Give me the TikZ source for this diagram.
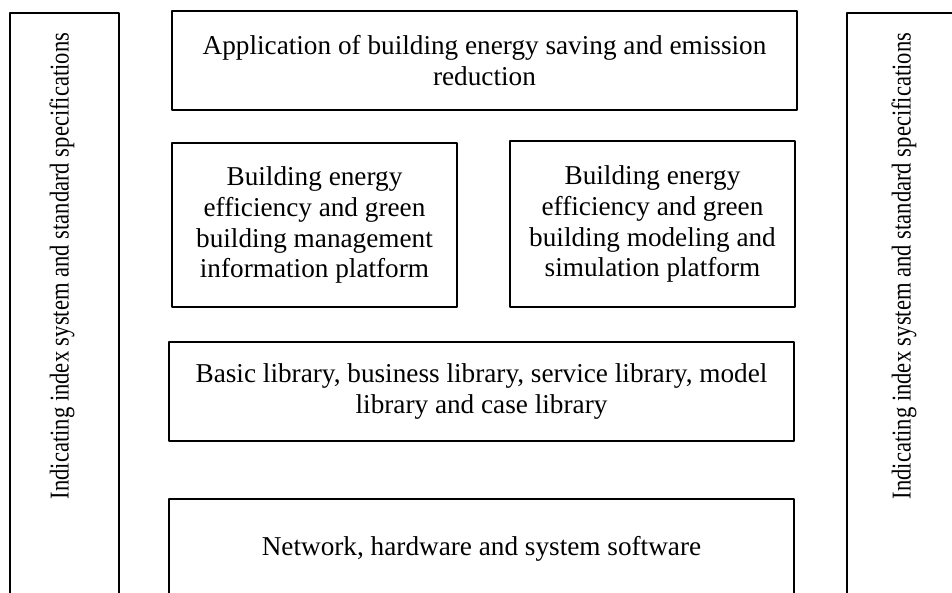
\documentclass[tikz,border=0pt]{standalone}
\usepackage{fontspec}
\setmainfont{Liberation Serif}
\begin{document}
\begin{tikzpicture}[x=0.02cm, y=-0.02cm, line join=round, font=\fontsize{15.5}{17.6}\selectfont,
	layer/.style={draw, line width=1.1pt, inner sep=0pt, outer sep=0pt, align=center},
	sidebox/.style={draw, line width=1.1pt, inner sep=0pt, minimum width=2.18cm, minimum height=14cm, anchor=north},
	sidetext/.style={rotate=90, xscale=0.83}]
	\useasboundingbox (0,0) rectangle (952,592);
	\clip (0,0) rectangle (952,592);
	% Seitenspalten
	\node[sidebox] (lside) at (64.5,12) {};
	\node[sidebox] (rside) at (901.5,12) {};
	\node[sidetext] (ltext) at (62,266) {Indicating index system and standard specifications};
	\node[sidetext] (rtext) at (904,266) {Indicating index system and standard specifications};
	% Schichten
	\node[layer, minimum width=12.5cm, minimum height=1.98cm] (app) at (484.5,60.5)
		{Application of building energy saving and emission\\ reduction};
	\node[layer, minimum width=5.7cm, minimum height=3.28cm] (mgmt) at (314.5,225)
		{Building energy\\ efficiency and green\\ building management\\ information platform};
	\node[layer, minimum width=5.7cm, minimum height=3.32cm] (sim) at (652.5,224)
		{Building energy\\ efficiency and green\\ building modeling and\\ simulation platform};
	\node[layer, minimum width=12.5cm, minimum height=1.98cm] (lib) at (481.5,391.5)
		{Basic library, business library, service library, model\\ library and case library};
	\node[layer, minimum width=12.5cm, minimum height=1.98cm] (net) at (481.5,548.5)
		{Network, hardware and system software};
\end{tikzpicture}
\end{document}
